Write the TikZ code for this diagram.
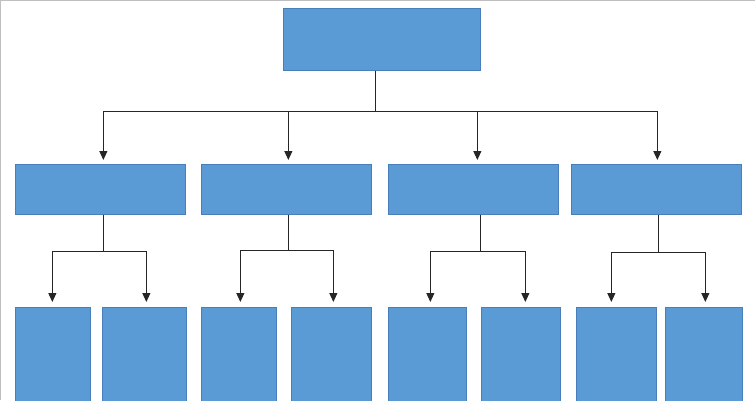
\documentclass[tikz,border=0pt]{standalone}
\usetikzlibrary{arrows.meta}
\definecolor{boxblue}{HTML}{5B9BD5}
\definecolor{boxline}{HTML}{4A7EBB}
\definecolor{linegray}{HTML}{262626}
\begin{document}
\begin{tikzpicture}[x=1pt,y=-1pt,
  box/.style={rectangle,draw=boxline,fill=boxblue,line width=0.7pt,inner sep=0pt,anchor=north west},
  midbox/.style={box,minimum width=170pt,minimum height=50pt},
  link/.style={draw=linegray,line width=1pt},
  arr/.style={link,-{Triangle[length=9pt,width=8pt]}},
  arrA/.style={arr,shorten >=4pt},
  arrB/.style={arr,shorten >=5pt}]
\useasboundingbox (0,0) rectangle (755,400);
\fill[white] (0,0) rectangle (755,400);
\draw[black!25,line width=1pt] (0.5,400) -- (0.5,0.5) -- (755,0.5);
\begin{scope}
\clip (0,0) rectangle (755,400);
% top
\node[box,minimum width=197pt,minimum height=62pt] (top) at (283,8) {};
% middle
\node[midbox] (m1) at (15,164) {};
\node[midbox] (m2) at (201,164) {};
\node[midbox] (m3) at (388,164) {};
\node[midbox] (m4) at (571,164) {};
% bottom
\node[box,minimum width=75pt,minimum height=110pt] (b1) at (15,307) {};
\node[box,minimum width=84pt,minimum height=110pt] (b2) at (102,307) {};
\node[box,minimum width=75pt,minimum height=110pt] (b3) at (201,307) {};
\node[box,minimum width=80pt,minimum height=110pt] (b4) at (291,307) {};
\node[box,minimum width=78pt,minimum height=110pt] (b5) at (388,307) {};
\node[box,minimum width=79pt,minimum height=110pt] (b6) at (481,307) {};
\node[box,minimum width=80pt,minimum height=110pt] (b7) at (576,307) {};
\node[box,minimum width=77pt,minimum height=110pt] (b8) at (665,307) {};
\end{scope}
% top connectors
\coordinate (j0) at (375.5,111);
\draw[link] (top.south -| j0) -- (j0);
\draw[arrA] (j0) -| ([xshift=3pt]m1.north);
\draw[arrA] (j0) -| ([xshift=2pt]m2.north);
\draw[arrA] (j0) -| ([xshift=4pt]m3.north);
\draw[arrA] (j0) -| ([xshift=1pt]m4.north);
% middle connectors
\coordinate (j1) at (103,251.5);
\coordinate (j2) at (288,250.5);
\coordinate (j3) at (480,251);
\coordinate (j4) at (658,252);
\draw[link] (m1.south -| j1) -- (j1);
\draw[link] (m2.south -| j2) -- (j2);
\draw[link] (m3.south -| j3) -- (j3);
\draw[link] (m4.south -| j4) -- (j4);
\draw[arrB] (j1) -| ([xshift=-0.5pt]b1.north);
\draw[arrB] (j1) -| ([xshift=2pt]b2.north);
\draw[arrB] (j2) -| ([xshift=1.5pt]b3.north);
\draw[arrB] (j2) -| ([xshift=2pt]b4.north);
\draw[arrB] (j3) -| ([xshift=3pt]b5.north);
\draw[arrB] (j3) -| ([xshift=4.5pt]b6.north);
\draw[arrB] (j4) -| ([xshift=-5pt]b7.north);
\draw[arrB] (j4) -| ([xshift=1.5pt]b8.north);
\end{tikzpicture}
\end{document}
